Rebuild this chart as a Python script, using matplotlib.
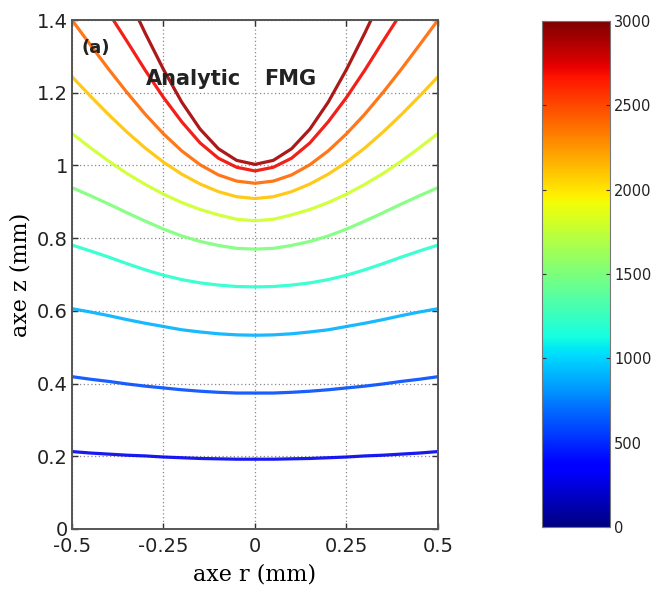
import matplotlib
matplotlib.use("Agg")
import matplotlib.pyplot as plt
import numpy as np
from matplotlib import cm, colors

# ---- data: half profiles (r >= 0), mirrored about r = 0 ----
levels = [300, 600, 900, 1200, 1500, 1800, 2100, 2400, 2700, 2900]

r_grid = [0.0, 0.05, 0.1, 0.15, 0.2, 0.25, 0.3, 0.35, 0.4, 0.45, 0.5]
z_l1 = [0.192, 0.192, 0.193, 0.194, 0.196, 0.198, 0.201, 0.203, 0.206, 0.209, 0.213]
z_l2 = [0.374, 0.374, 0.376, 0.379, 0.383, 0.388, 0.393, 0.399, 0.406, 0.412, 0.419]
z_l3 = [0.533, 0.534, 0.537, 0.542, 0.548, 0.557, 0.566, 0.576, 0.587, 0.597, 0.606]
z_l4 = [0.666, 0.667, 0.671, 0.677, 0.686, 0.698, 0.713, 0.730, 0.748, 0.765, 0.781]
z_l5 = [0.770, 0.772, 0.780, 0.791, 0.806, 0.825, 0.847, 0.870, 0.894, 0.917, 0.939]
z_l6 = [0.848, 0.852, 0.864, 0.879, 0.898, 0.921, 0.948, 0.978, 1.012, 1.049, 1.088]
z_l7 = [0.909, 0.914, 0.928, 0.949, 0.976, 1.009, 1.048, 1.092, 1.140, 1.191, 1.244]
z_l8 = [0.951, 0.957, 0.974, 1.002, 1.040, 1.087, 1.141, 1.201, 1.265, 1.332, 1.400]
r_l9 = [0.0, 0.05, 0.1, 0.15, 0.2, 0.25, 0.3, 0.35, 0.387]
z_l9 = [0.985, 0.995, 1.020, 1.062, 1.120, 1.187, 1.262, 1.342, 1.400]
r_l10 = [0.0, 0.05, 0.1, 0.15, 0.2, 0.25, 0.3, 0.317]
z_l10 = [1.003, 1.014, 1.046, 1.100, 1.174, 1.264, 1.364, 1.400]

profiles = [(r_grid, z_l1), (r_grid, z_l2), (r_grid, z_l3), (r_grid, z_l4),
            (r_grid, z_l5), (r_grid, z_l6), (r_grid, z_l7), (r_grid, z_l8),
            (r_l9, z_l9), (r_l10, z_l10)]

xticks = [-0.5, -0.25, 0, 0.25, 0.5]
xticklabels = ["-0.5", "-0.25", "0", "0.25", "0.5"]
yticks = [0, 0.2, 0.4, 0.6, 0.8, 1.0, 1.2, 1.4]
yticklabels = ["0", "0.2", "0.4", "0.6", "0.8", "1", "1.2", "1.4"]
cbticks = [0, 500, 1000, 1500, 2000, 2500, 3000]

vmin, vmax = 0, 3000

fig = plt.figure(figsize=(6.57, 5.90), dpi=100)
ax = fig.add_axes([0.1096, 0.1034, 0.557, 0.8626])

cmap = matplotlib.colormaps["jet"]
norm = colors.Normalize(vmin=vmin, vmax=vmax)

for lev, (rh, zh) in zip(levels, profiles):
    rh = np.asarray(rh); zh = np.asarray(zh)
    r_full = np.concatenate([-rh[::-1], rh[1:]])
    z_full = np.concatenate([zh[::-1], zh[1:]])
    ax.plot(r_full, z_full, color=cmap(norm(lev)), lw=2.3,
            solid_joinstyle="round", solid_capstyle="round", alpha=0.9)

ax.set_xlim(-0.5, 0.5)
ax.set_ylim(0, 1.4)
ax.set_xticks(xticks)
ax.set_xticklabels(xticklabels)
ax.set_yticks(yticks)
ax.set_yticklabels(yticklabels)
ax.grid(True, color="#8a8a8a", linestyle=(0, (1, 2)), lw=0.9)
ax.tick_params(direction="in", length=4, width=1, colors="#333333",
               labelsize=14, top=True, right=True)
ax.tick_params(axis="x", pad=6)
ax.tick_params(axis="y", pad=3)
for lab in ax.get_xticklabels() + ax.get_yticklabels():
    lab.set_fontfamily("DejaVu Sans")
    lab.set_color("#222222")
for s in ax.spines.values():
    s.set_color("#555555")
    s.set_linewidth(1.4)

ax.set_xlabel("axe r (mm)", family="DejaVu Serif", fontsize=16, labelpad=5)
ax.set_ylabel("axe z (mm)", family="DejaVu Serif", fontsize=16, labelpad=4)

ax.text(0.027, 0.945, "(a)", transform=ax.transAxes, family="DejaVu Sans",
        fontweight="bold", fontsize=13, color="#222222", va="center")
ax.text(0.203, 0.885, "Analytic", transform=ax.transAxes, family="DejaVu Sans",
        fontweight="bold", fontsize=15, color="#222222", va="center")
ax.text(0.525, 0.885, "FMG", transform=ax.transAxes, family="DejaVu Sans",
        fontweight="bold", fontsize=15, color="#222222", va="center")

# colorbar
cax = fig.add_axes([0.825, 0.1068, 0.1035, 0.8576])
sm = cm.ScalarMappable(norm=norm, cmap=cmap)
cb = fig.colorbar(sm, cax=cax, ticks=cbticks)
cb.outline.set_edgecolor("#777777")
cb.outline.set_linewidth(0.8)
cax.tick_params(direction="in", length=3, width=0.8, colors="#333333",
                labelsize=10.5, left=True, right=True, pad=3)
for lab in cax.get_yticklabels():
    lab.set_fontfamily("DejaVu Sans")
    lab.set_color("#222222")

fig.savefig("out.png", dpi=100, facecolor="white")
